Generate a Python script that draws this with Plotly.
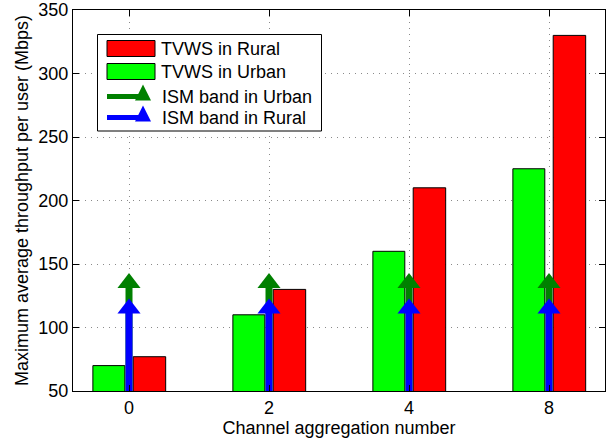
import plotly.graph_objects as go

# ---------------- data ----------------
group_labels = ["0", "2", "4", "8"]          # channel aggregation number
tvws_rural = [77, 130, 210, 330]
tvws_urban = [70, 110, 160, 225]
ism_urban = [135, 135, 135, 135]
ism_rural = [115, 115, 115, 115]
y_ticks = [50, 100, 150, 200, 250, 300, 350]
Y_MIN, Y_MAX = 50, 350

series_names = ["TVWS in Rural", "TVWS in Urban", "ISM band in Urban", "ISM band in Rural"]

# ---------------- styling ----------------
FONT = "Arial, Liberation Sans, Helvetica, sans-serif"
RED, GREEN, DKGREEN, BLUE = "#FF0000", "#00FF00", "#008000", "#0000FF"
W, H = 615, 439
# plot area in pixels
L, R, T, B = 73, 605, 10, 391

xs = list(range(len(group_labels)))

fig = go.Figure()

fig.add_trace(go.Bar(x=xs, y=tvws_urban, name=series_names[1], base=0,
                     offset=-0.258, width=0.228,
                     marker=dict(color=GREEN, line=dict(color="black", width=1)),
                     showlegend=False))
fig.add_trace(go.Bar(x=xs, y=tvws_rural, name=series_names[0], base=0,
                     offset=0.030, width=0.232,
                     marker=dict(color=RED, line=dict(color="black", width=1)),
                     showlegend=False))


def stems(vals):
    sx, sy = [], []
    for i, v in zip(xs, vals):
        sx += [i, i, None]
        sy += [Y_MIN, v, None]
    return sx, sy


for vals, col, nm in [(ism_urban, DKGREEN, series_names[2]), (ism_rural, BLUE, series_names[3])]:
    sx, sy = stems(vals)
    fig.add_trace(go.Scatter(x=sx, y=sy, mode="lines", line=dict(color=col, width=7),
                             name=nm, showlegend=False, hoverinfo="skip"))
    fig.add_trace(go.Scatter(x=xs, y=vals, mode="markers",
                             marker=dict(symbol="triangle-up", size=20, color=col,
                                         line=dict(width=0)),
                             name=nm, showlegend=False))

axis_common = dict(
    showline=True, linecolor="black", linewidth=1, mirror="ticks",
    ticks="inside", ticklen=6, tickcolor="black", tickwidth=1,
    showgrid=True, gridcolor="#8a8a8a", gridwidth=1, griddash="1px,5px",
    zeroline=False, automargin=False,
    tickfont=dict(family=FONT, size=18, color="black"),
)

fig.update_xaxes(range=[-0.4, 3.4], tickmode="array", tickvals=xs, ticktext=group_labels,
                 title=dict(text="Channel aggregation number",
                            font=dict(family=FONT, size=18, color="black"), standoff=0),
                 **axis_common)
fig.update_yaxes(range=[Y_MIN, Y_MAX], tickmode="array", tickvals=y_ticks,
                 title=dict(text="Maximum average throughput per user (Mbps)",
                            font=dict(family=FONT, size=18, color="black"), standoff=5),
                 **axis_common)


# ---------------- manual legend (MATLAB style) ----------------
def px(x):
    return (x - L) / (R - L)


def py(y):
    return (B - y) / (B - T)


shapes = [dict(type="rect", xref="paper", yref="paper",
               x0=px(97.5), x1=px(321.5), y0=py(131), y1=py(34.5),
               line=dict(color="black", width=1), fillcolor="white", layer="above")]
annotations = []
rows = [48.5, 71.5, 96.5, 117.5]
swatch_cols = [RED, GREEN]
for k in range(2):
    yc = rows[k]
    shapes.append(dict(type="rect", xref="paper", yref="paper",
                       x0=px(107), x1=px(155), y0=py(yc + 8), y1=py(yc - 8),
                       line=dict(color="black", width=1), fillcolor=swatch_cols[k]))
    annotations.append(dict(xref="paper", yref="paper", x=px(159), y=py(yc),
                            xanchor="left", yanchor="middle", showarrow=False,
                            text=series_names[k],
                            font=dict(family=FONT, size=18, color="black")))
arrow_cols = [DKGREEN, BLUE]
for k in range(2):
    yc = rows[k + 2]
    col = arrow_cols[k]
    shapes.append(dict(type="line", xref="paper", yref="paper",
                       x0=px(107), x1=px(140), y0=py(yc), y1=py(yc),
                       line=dict(color=col, width=5)))
    shapes.append(dict(type="path", xref="paper", yref="paper",
                       path=f"M {px(135)},{py(yc + 4)} L {px(151)},{py(yc + 4)} L {px(143)},{py(yc - 12)} Z",
                       line=dict(color=col, width=0), fillcolor=col))
    annotations.append(dict(xref="paper", yref="paper", x=px(160), y=py(yc),
                            xanchor="left", yanchor="middle", showarrow=False,
                            text=series_names[k + 2],
                            font=dict(family=FONT, size=18, color="black")))

fig.update_layout(
    width=W, height=H,
    margin=dict(l=L, r=W - R, t=T, b=H - B, pad=0, autoexpand=False),
    barmode="overlay",
    paper_bgcolor="white", plot_bgcolor="white",
    font=dict(family=FONT, color="black"),
    shapes=shapes, annotations=annotations,
    showlegend=False,
)

fig.write_html("out.html",
               config={"displayModeBar": False},
               post_script="document.body.style.margin='0';document.body.style.overflow='hidden';")
